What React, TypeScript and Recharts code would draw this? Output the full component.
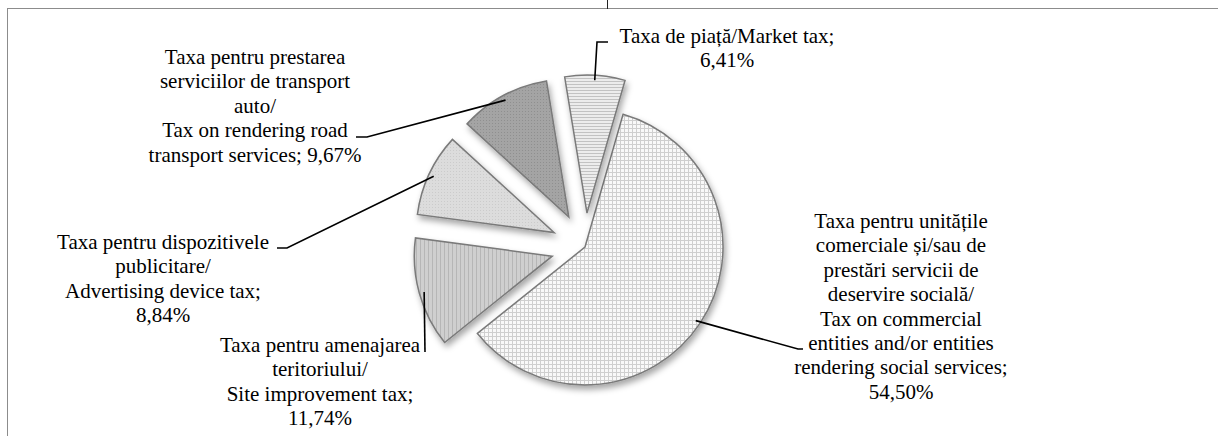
import React from 'react';
import { PieChart, Pie, Cell } from 'recharts';

// ---- data ----
const categories = [
  'Taxa pentru unitățile comerciale și/sau de prestări servicii de deservire socială',
  'Taxa pentru amenajarea teritoriului',
  'Taxa pentru dispozitivele publicitare',
  'Taxa pentru prestarea serviciilor de transport auto',
  'Taxa de piață',
];
const shares = [54.5, 11.74, 8.84, 9.67, 6.41];
const labelTexts = [
  ['Taxa pentru unitățile', 'comerciale și/sau de', 'prestări servicii de', 'deservire socială/', 'Tax on commercial', 'entities and/or entities', 'rendering social services;', '{v}'],
  ['Taxa pentru amenajarea', 'teritoriului/', 'Site improvement tax;', '{v}'],
  ['Taxa pentru dispozitivele', 'publicitare/', 'Advertising device tax;', '{v}'],
  ['Taxa pentru prestarea', 'serviciilor de transport', 'auto/', 'Tax on rendering road', 'transport services; {v}'],
  ['Taxa de piață/Market tax;', '{v}'],
];

// ---- styling / layout (not data) ----
const fills = ['url(#pGrid)', 'url(#pVert)', 'url(#pAdv)', 'url(#pDots)', 'url(#pHoriz)'];
const explode = [0, 34, 34, 34, 34];
const labelLayout = [
  { x: 901, y: 228, path: [[803, 349], [798, 349]] },
  { x: 320, y: 352, path: [[425, 352]] },
  { x: 163, y: 249, path: [[277, 248], [287, 248]] },
  { x: 255, y: 64, path: [[356, 137], [367, 137]] },
  { x: 727, y: 43, path: [[608, 42], [597, 42]] },
];
const CX = 585;
const CY = 247;
const R = 138;
const START = 74;
const LH = 24.4;
const RAD = Math.PI / 180;

const data = categories.map((name, i) => ({ name, value: shares[i] }));
const total = shares.reduce((a, b) => a + b, 0);

const fmt = (v: number) => v.toFixed(2).replace('.', ',') + '%';

function offsetFor(i: number) {
  let cum = 0;
  for (let k = 0; k < i; k++) cum += shares[k];
  const mid = START - (360 * (cum + shares[i] / 2)) / total;
  return { dx: explode[i] * Math.cos(mid * RAD), dy: -explode[i] * Math.sin(mid * RAD) };
}

function makeLabel(i: number) {
  return (props: any) => {
    if (props.index !== i) return <g />;
    const { cx, cy, midAngle, outerRadius } = props;
    const ax = cx + Math.cos(-midAngle * RAD) * (outerRadius - 5);
    const ay = cy + Math.sin(-midAngle * RAD) * (outerRadius - 5);
    const lay = labelLayout[i];
    const pts = [...lay.path, [ax, ay]].map((p) => p.join(',')).join(' ');
    const lines = labelTexts[i].map((l) => l.replace('{v}', fmt(shares[i])));
    return (
      <g>
        <polyline points={pts} fill="none" stroke="#000" strokeWidth={1.6} />
        {lines.map((l, k) => (
          <text
            key={k}
            x={lay.x}
            y={lay.y + k * LH}
            textAnchor="middle"
            fontFamily="Liberation Serif"
            fontSize={21}
            fill="#000"
          >
            {l}
          </text>
        ))}
      </g>
    );
  };
}

export default function App() {
  return (
    <div style={{ position: 'absolute', left: 0, top: 0, width: 1218, height: 436, overflow: 'hidden', background: '#fff' }}>
      <style>{`.shade { filter: url(#bevel); }`}</style>
      <svg width={0} height={0} style={{ position: 'absolute' }}>
        <defs>
          <pattern id="pGrid" width={4} height={4} patternUnits="userSpaceOnUse">
            <rect width={4} height={4} fill="#f9f9f9" />
            <path d="M0 0.5H4M0.5 0V4" stroke="#cfcfcf" strokeWidth={1} />
          </pattern>
          <pattern id="pHoriz" width={4} height={3} patternUnits="userSpaceOnUse">
            <rect width={4} height={3} fill="#ececec" />
            <path d="M0 0.5H4" stroke="#c2c2c2" strokeWidth={1} />
          </pattern>
          <pattern id="pDots" width={3} height={3} patternUnits="userSpaceOnUse">
            <rect width={3} height={3} fill="#a4a4a4" />
            <rect width={1} height={1} fill="#8f8f8f" />
          </pattern>
          <pattern id="pAdv" width={3} height={3} patternUnits="userSpaceOnUse">
            <rect width={3} height={3} fill="#dcdcdc" />
            <rect width={1} height={1} fill="#cbcbcb" />
          </pattern>
          <pattern id="pVert" width={4} height={4} patternUnits="userSpaceOnUse">
            <rect width={4} height={4} fill="#cfcfcf" />
            <path d="M0.5 0V4" stroke="#b6b6b6" strokeWidth={1} />
          </pattern>
          <filter id="bevel" x="-10%" y="-10%" width="125%" height="125%">
            <feDropShadow dx="2" dy="4" stdDeviation="3" floodColor="#000" floodOpacity="0.35" />
          </filter>
        </defs>
      </svg>
      <div style={{ position: 'absolute', left: 7, top: 8, width: 1400, height: 600, border: '1px solid #8c8c8c', boxSizing: 'border-box' }} />
      <div style={{ position: 'absolute', left: 607, top: 0, width: 1, height: 9, background: '#222' }} />
      <div style={{ position: 'absolute', left: 0, top: 0 }}>
        <PieChart width={1218} height={436} margin={{ top: 0, right: 0, bottom: 0, left: 0 }}>
          {shares.map((_, i) => {
            const o = offsetFor(i);
            return (
              <Pie
                key={i}
                data={data}
                dataKey="value"
                nameKey="name"
                cx={CX + o.dx}
                cy={CY + o.dy}
                outerRadius={R}
                startAngle={START}
                endAngle={START - 360}
                isAnimationActive={false}
                labelLine={false}
                label={makeLabel(i)}
              >
                {data.map((_, k) => (
                  <Cell
                    key={k}
                    className={k === i ? 'shade' : undefined}
                    fill={k === i ? fills[i] : 'none'}
                    stroke={k === i ? '#7a7a7a' : 'none'}
                    strokeWidth={1.5}
                  />
                ))}
              </Pie>
            );
          })}
        </PieChart>
      </div>
    </div>
  );
}
